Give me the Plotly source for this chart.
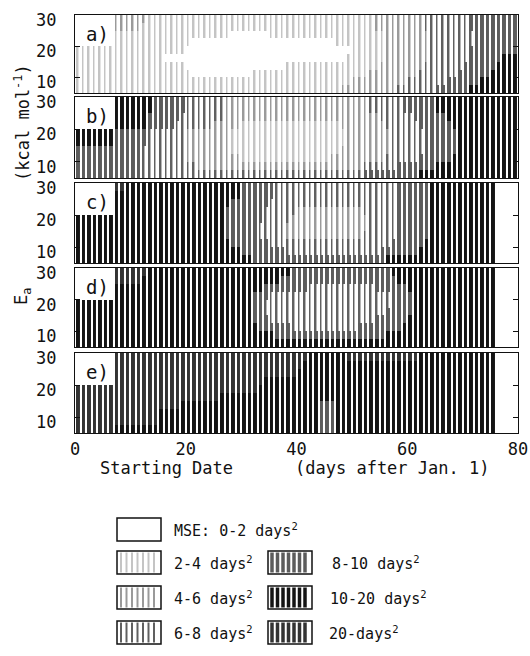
import numpy as np
import plotly.graph_objects as go
from plotly.subplots import make_subplots

# ---------------- data ----------------
N_DAYS = 80
DAYS = list(range(N_DAYS))                      # starting date (days after Jan. 1)
EA_CENTERS = [6.25, 8.75, 11.25, 13.75, 16.25, 18.75, 21.25, 23.75, 26.25, 28.75]  # kcal/mol bins
X_TICKS = [0, 20, 40, 60, 80]
Y_TICKS = [10, 20, 30]
PANEL_LABELS = ["a)", "b)", "c)", "d)", "e)"]
LEVEL_TEXT = ["MSE: 0-2 days<sup>2</sup>", "2-4 days<sup>2</sup>", "4-6 days<sup>2</sup>",
              "6-8 days<sup>2</sup>", "8-10 days<sup>2</sup>", "10-20 days<sup>2</sup>",
              "20-days<sup>2</sup>"]

# MSE class per cell, run-length coded (class, number of days); '.' = no value
# rows from top (Ea 27.5-30) to bottom (Ea 5-7.5)
PANEL_A = [
    [('.', 7), (2, 6), (1, 41), (2, 9), (3, 8), (4, 9)],
    [('.', 7), (2, 5), (1, 42), (2, 9), (3, 8), (4, 9)],
    [('.', 7), (1, 21), (0, 7), (1, 21), (2, 8), (3, 8), (4, 8)],
    [('.', 7), (1, 14), (0, 26), (1, 9), (2, 8), (3, 8), (4, 8)],
    [(1, 20), (0, 30), (1, 6), (2, 8), (3, 7), (4, 9)],
    [(1, 16), (0, 33), (1, 7), (2, 8), (3, 7), (4, 6), (5, 3)],
    [(1, 20), (0, 18), (1, 17), (2, 8), (3, 7), (4, 6), (5, 4)],
    [(1, 21), (0, 11), (1, 21), (2, 9), (3, 7), (4, 6), (5, 5)],
    [(1, 50), (2, 10), (3, 7), (4, 6), (5, 7)],
    [(1, 48), (2, 10), (3, 7), (4, 6), (5, 9)],
]
PANEL_B = [
    [('.', 7), (5, 7), (4, 6), (3, 7), (2, 26), (3, 6), (4, 6), (5, 15)],
    [('.', 7), (5, 7), (4, 6), (3, 7), (2, 26), (3, 6), (4, 6), (5, 15)],
    [('.', 7), (5, 6), (4, 6), (3, 8), (2, 28), (3, 6), (4, 6), (5, 13)],
    [('.', 7), (5, 6), (4, 5), (3, 7), (2, 5), (1, 18), (2, 8), (3, 6), (4, 6), (5, 12)],
    [(5, 7), (4, 6), (3, 7), (2, 8), (1, 21), (2, 8), (3, 6), (4, 6), (5, 11)],
    [(5, 7), (4, 6), (3, 7), (2, 8), (1, 21), (2, 8), (3, 6), (4, 6), (5, 11)],
    [(4, 12), (3, 8), (2, 8), (1, 20), (2, 9), (3, 6), (4, 6), (5, 11)],
    [(4, 12), (3, 8), (2, 10), (1, 16), (2, 10), (3, 6), (4, 6), (5, 12)],
    [(4, 12), (3, 10), (2, 30), (3, 6), (4, 7), (5, 15)],
    [(4, 12), (3, 40), (4, 10), (5, 18)],
]
PANEL_C = [
    [('.', 7), (6, 2), (5, 21), (4, 6), (3, 22), (4, 6), (5, 12), ('.', 4)],
    [('.', 7), (5, 23), (4, 6), (3, 22), (4, 6), (5, 12), ('.', 4)],
    [('.', 7), (5, 21), (4, 7), (3, 23), (4, 6), (5, 12), ('.', 4)],
    [('.', 7), (5, 20), (4, 7), (3, 6), (2, 12), (3, 6), (4, 6), (5, 12), ('.', 4)],
    [(5, 27), (4, 7), (3, 5), (2, 14), (3, 5), (4, 6), (5, 12), ('.', 4)],
    [(5, 27), (4, 6), (3, 5), (2, 15), (3, 5), (4, 6), (5, 12), ('.', 4)],
    [(5, 27), (4, 6), (3, 5), (2, 14), (3, 6), (4, 6), (5, 12), ('.', 4)],
    [(5, 28), (4, 7), (3, 22), (4, 6), (5, 13), ('.', 4)],
    [(5, 30), (4, 8), (3, 17), (4, 7), (5, 14), ('.', 4)],
    [(5, 32), (4, 24), (5, 20), ('.', 4)],
]
PANEL_D = [
    [('.', 7), (6, 6), (5, 26), (4, 18), (5, 19), ('.', 4)],
    [('.', 7), (6, 5), (5, 25), (4, 21), (5, 18), ('.', 4)],
    [('.', 7), (5, 27), (4, 8), (3, 12), (4, 6), (5, 16), ('.', 4)],
    [('.', 7), (5, 25), (4, 3), (3, 22), (4, 4), (5, 15), ('.', 4)],
    [(5, 32), (4, 2), (3, 23), (4, 4), (5, 15), ('.', 4)],
    [(5, 32), (4, 2), (3, 22), (4, 5), (5, 15), ('.', 4)],
    [(5, 32), (4, 3), (3, 19), (4, 6), (5, 16), ('.', 4)],
    [(5, 33), (4, 6), (3, 12), (4, 8), (5, 17), ('.', 4)],
    [(5, 36), (4, 20), (5, 20), ('.', 4)],
    [(5, 76), ('.', 4)],
]
PANEL_E = [
    [('.', 7), (6, 35), (5, 7), (6, 13), (5, 14), ('.', 4)],
    [('.', 7), (6, 34), (5, 35), ('.', 4)],
    [('.', 7), (6, 33), (5, 36), ('.', 4)],
    [('.', 7), (6, 27), (5, 42), ('.', 4)],
    [(6, 33), (5, 43), ('.', 4)],
    [(6, 26), (5, 50), ('.', 4)],
    [(6, 19), (5, 25), (4, 3), (5, 29), ('.', 4)],
    [(6, 15), (5, 29), (4, 3), (5, 29), ('.', 4)],
    [(6, 15), (5, 29), (4, 3), (5, 29), ('.', 4)],
    [(6, 7), (5, 37), (4, 3), (5, 29), ('.', 4)],
]
PANELS = [PANEL_A, PANEL_B, PANEL_C, PANEL_D, PANEL_E]

# ---------------- style ----------------
# light classes are drawn as thin columns, dark classes as wide columns
LEVEL_COLORS = ["#ffffff", "#c4c4c4", "#9a9a9a", "#606060", "#5c5c5c", "#141414", "#333333"]
LEVEL_WIDTH = [0, 2, 2, 2, 3.5, 3.5, 3.5]
LIGHT = [1, 2, 3]
DARK = [0, 4, 5, 6]
FONT = "DejaVu Sans Mono"
INK = "#111111"
W, H = 530, 656
L, R, T, B = 75, 12, 15, 223
PANEL_PX = [(15, 93), (97, 178), (183, 263), (268, 347), (353, 433)]


def expand(runs):
    row = []
    for lv, n in runs:
        row += [np.nan if lv == '.' else float(lv)] * n
    row = (row + [np.nan] * N_DAYS)[:N_DAYS]
    return row


nlev = len(LEVEL_COLORS)
colorscale = []
for i, c in enumerate(LEVEL_COLORS):
    colorscale.append([i / nlev, c])
    colorscale.append([(i + 1) / nlev, c])

fig = make_subplots(rows=5, cols=1, shared_xaxes=True, vertical_spacing=0.01)

plot_h = H - T - B
col_px = (W - L - R) / N_DAYS
for i, panel in enumerate(PANELS):
    z = np.array([expand(r) for r in panel][::-1])  # bottom row first
    for group, width in [(DARK, 3.5), (LIGHT, 2.0)]:
        zg = np.where(np.isin(z, group), z, np.nan)
        fig.add_trace(go.Heatmap(
            z=zg.tolist(), x=[d + 0.5 for d in DAYS], y=EA_CENTERS,
            colorscale=colorscale, zmin=-0.5, zmax=nlev - 0.5,
            showscale=False, xgap=col_px - width, hoverinfo="skip"), row=i + 1, col=1)
    top, bot = PANEL_PX[i]
    yname = "yaxis" if i == 0 else f"yaxis{i + 1}"
    fig.layout[yname].domain = [(H - B - bot) / plot_h, (H - B - top) / plot_h]
    fig.add_annotation(x=4, y=24, xref=f"x{i + 1}" if i else "x", yref=f"y{i + 1}" if i else "y",
                       text=PANEL_LABELS[i], showarrow=False, xanchor="center", yanchor="middle",
                       font=dict(family=FONT, size=19, color=INK))

fig.update_yaxes(range=[5, 30], tickvals=Y_TICKS, ticks="inside", ticklen=5, tickcolor=INK,
                 showline=True, linecolor=INK, linewidth=1.3, mirror="ticks",
                 showgrid=False, zeroline=False, ticklabelstandoff=14,
                 ticklabelshift=5, automargin=False,
                 tickfont=dict(family=FONT, size=17, color=INK))
fig.update_xaxes(range=[0, 80], tickvals=X_TICKS, ticks="", showline=True, linecolor=INK,
                 linewidth=1.3, mirror=True, showgrid=False, zeroline=False, automargin=False,
                 tickfont=dict(family=FONT, size=17, color=INK))
fig.update_xaxes(showticklabels=True, ticklabelstandoff=0, row=5, col=1)


def px_to_paper(px, py):
    return (px - L) / (W - L - R), (H - B - py) / plot_h


# axis titles
for txt, cx, cy in [("Starting Date", 166, 468), ("(days after Jan. 1)", 392, 468)]:
    px, py = px_to_paper(cx, cy)
    fig.add_annotation(x=px, y=py, xref="paper", yref="paper", text=txt, showarrow=False,
                       xanchor="center", yanchor="middle",
                       font=dict(family=FONT, size=17, color=INK))
for txt, cx, cy in [("(kcal mol<sup>-1</sup>)", 22, 123), ("E<sub>a</sub>", 22, 297)]:
    px, py = px_to_paper(cx, cy)
    fig.add_annotation(x=px, y=py, xref="paper", yref="paper", text=txt, showarrow=False,
                       xanchor="center", yanchor="middle",
                       textangle=-90, font=dict(family=FONT, size=17, color=INK))

# legend (drawn as boxes with stripes)
LEG_POS = [(0, 117, 518, 172), (1, 117, 551, 172), (2, 117, 586, 172), (3, 117, 621, 172),
           (4, 268, 551, 330), (5, 268, 586, 328), (6, 268, 621, 327)]
BOX_W, BOX_H = 44, 23
for lv, bx, by, tx in LEG_POS:
    x0, y0 = px_to_paper(bx, by + BOX_H)
    x1, y1 = px_to_paper(bx + BOX_W, by)
    fig.add_shape(type="rect", xref="paper", yref="paper", x0=x0, x1=x1, y0=y0, y1=y1,
                  line=dict(color=INK, width=1.5), fillcolor="white")
    if lv > 0:
        k = 0
        while True:
            sx = bx + 4 + k * 5.5
            if sx > bx + BOX_W - 3:
                break
            lx, ly0 = px_to_paper(sx, by + BOX_H - 1.5)
            _, ly1 = px_to_paper(sx, by + 1.5)
            fig.add_shape(type="line", xref="paper", yref="paper", x0=lx, x1=lx, y0=ly0, y1=ly1,
                          line=dict(color=LEVEL_COLORS[lv], width=LEVEL_WIDTH[lv]))
            k += 1
    tpx, tpy = px_to_paper(tx, by + BOX_H / 2)
    fig.add_annotation(x=tpx, y=tpy, xref="paper", yref="paper", text=LEVEL_TEXT[lv],
                       showarrow=False, xanchor="left", yanchor="middle",
                       font=dict(family=FONT, size=15, color=INK))

fig.update_layout(width=W, height=H, margin=dict(l=L, r=R, t=T, b=B, autoexpand=False),
                  paper_bgcolor="white", plot_bgcolor="white", showlegend=False)
fig.write_html("out.html", config={"displayModeBar": False},
               post_script="document.body.style.margin='0';document.body.style.overflow='hidden';")
